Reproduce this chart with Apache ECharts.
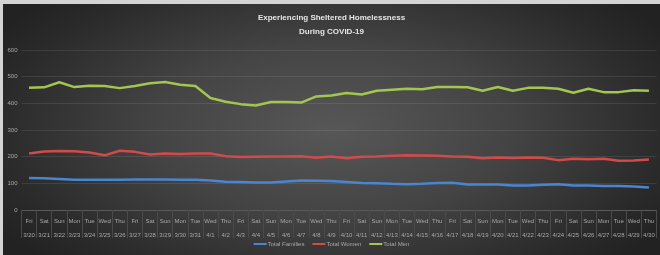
<!DOCTYPE html>
<html>
<head>
<meta charset="utf-8">
<script src="https://cdn.jsdelivr.net/npm/echarts@6/dist/echarts.min.js"></script>
<style>
  html, body { margin: 0; padding: 0; background: #d4d4d4; }
  #main {
    position: absolute; left: 3px; top: 4px; width: 657px; height: 251px;
    background: radial-gradient(ellipse 60% 75% at 50% 50%, #575757 0%, #444 45%, #2a2a2a 85%, #222 100%);
  }
</style>
</head>
<body>
<div id="main"></div>
<script>
// day names and dates (3/20 - 4/30)
var days = ['Fri','Sat','Sun','Mon','Tue','Wed','Thu','Fri','Sat','Sun','Mon','Tue','Wed',
  'Thu','Fri','Sat','Sun','Mon','Tue','Wed','Thu','Fri','Sat','Sun','Mon','Tue','Wed',
  'Thu','Fri','Sat','Sun','Mon','Tue','Wed','Thu','Fri','Sat','Sun','Mon','Tue','Wed','Thu'];
var dates = ['3/20','3/21','3/22','3/23','3/24','3/25','3/26','3/27','3/28','3/29','3/30','3/31','4/1',
  '4/2','4/3','4/4','4/5','4/6','4/7','4/8','4/9','4/10','4/11','4/12','4/13','4/14','4/15',
  '4/16','4/17','4/18','4/19','4/20','4/21','4/22','4/23','4/24','4/25','4/26','4/27','4/28','4/29','4/30'];

var totalFamilies = [120,119,116,113,113,113,113,114,114,114,113,113,111,
  106,105,103,103,107,111,110,109,105,101,100,98,97,98,
  101,102,96,96,96,92,92,95,97,92,92,90,90,88,84];
var totalWomen = [212,219,221,220,216,205,222,218,208,212,210,212,212,
  202,199,200,201,201,202,196,201,194,200,201,203,205,204,
  203,201,200,194,197,195,197,196,187,192,190,192,185,186,189];
var totalMen = [458,460,479,461,466,465,457,465,475,480,470,465,420,
  406,397,392,405,405,403,426,429,439,433,447,451,455,453,
  461,461,460,447,461,447,458,458,455,440,455,442,442,449,447];

var categories = days.map(function (d, i) { return d + '\n' + dates[i]; });

var myChart = echarts.init(document.getElementById('main'));
var option = {
  backgroundColor: 'transparent',
  animation: false,
  title: {
    text: 'Experiencing Sheltered Homelessness\nDuring COVID-19',
    left: 'center',
    top: 2,
    textStyle: {
      color: '#e6e6e6',
      fontFamily: 'Liberation Sans, sans-serif',
      fontSize: 8,
      fontWeight: 'bold',
      lineHeight: 14
    }
  },
  legend: {
    bottom: 3,
    left: 'center',
    itemWidth: 13,
    itemHeight: 2,
    itemGap: 8,
    icon: 'rect',
    textStyle: { color: '#a8a8a8', fontSize: 6, fontFamily: 'Liberation Sans Narrow, sans-serif', padding: [0, 0, 0, -4] },
    data: ['Total Families', 'Total Women', 'Total Men']
  },
  grid: { left: 18.5, right: 3.5, top: 46, bottom: 45 },
  xAxis: {
    type: 'category',
    data: categories,
    boundaryGap: true,
    axisLine: { show: true, lineStyle: { color: '#5a5a5a', width: 1 } },
    axisTick: { show: true, interval: 0, length: 28, lineStyle: { color: '#4a4a4a' } },
    axisLabel: {
      interval: 0,
      color: '#a8a8a8',
      fontSize: 6,
      lineHeight: 14,
      margin: 4,
      fontFamily: 'Liberation Sans Narrow, sans-serif'
    }
  },
  yAxis: {
    type: 'value',
    min: 0,
    max: 600,
    interval: 100,
    axisLine: { show: false },
    axisTick: { show: false },
    axisLabel: { color: '#a8a8a8', fontSize: 6, margin: 4, fontFamily: 'Liberation Sans Narrow, sans-serif' },
    splitLine: { lineStyle: { color: 'rgba(255,255,255,0.09)', width: 1 } }
  },
  series: [
    { name: 'Total Families', type: 'line', data: totalFamilies, showSymbol: false,
      itemStyle: { color: '#4a85cf' }, lineStyle: { color: '#4a85cf', width: 2.5 } },
    { name: 'Total Women', type: 'line', data: totalWomen, showSymbol: false,
      itemStyle: { color: '#d24a4a' }, lineStyle: { color: '#d24a4a', width: 2.5 } },
    { name: 'Total Men', type: 'line', data: totalMen, showSymbol: false,
      itemStyle: { color: '#a2c64f' }, lineStyle: { color: '#a2c64f', width: 2.5 } }
  ]
};
option && myChart.setOption(option);
</script>
</body>
</html>
